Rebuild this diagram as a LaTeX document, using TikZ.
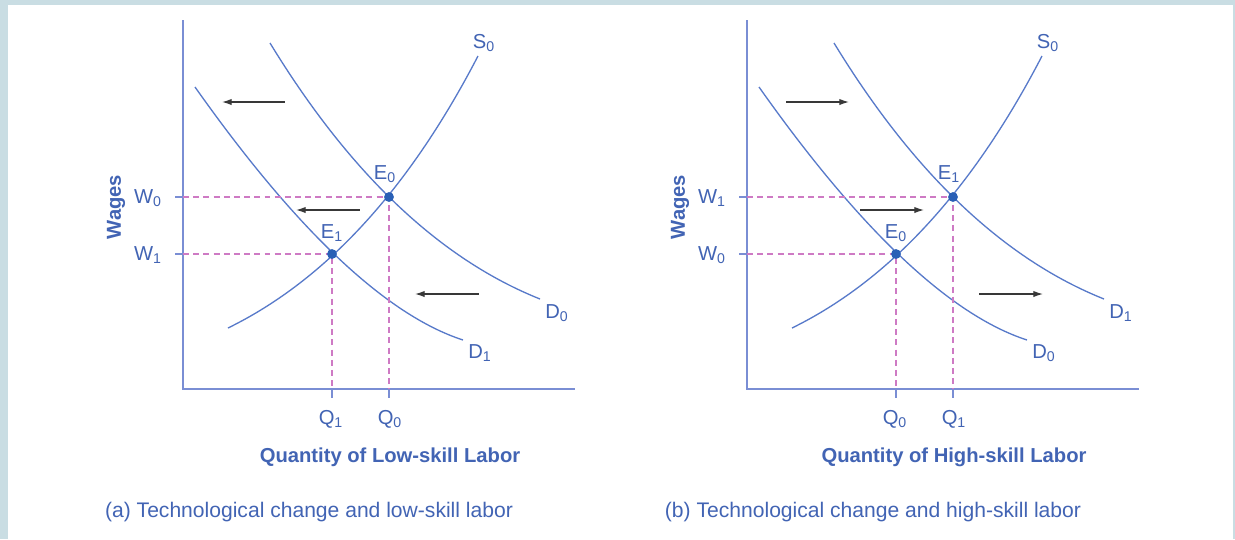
\documentclass[tikz,border=0pt]{standalone}
\usepackage{fontspec}
\setmainfont{Liberation Sans}
\usetikzlibrary{arrows.meta}

\definecolor{framecol}{RGB}{201,221,227}
\definecolor{axisblue}{RGB}{122,142,212}
\definecolor{curveblue}{RGB}{88,122,202}
\definecolor{txtblue}{RGB}{66,100,180}
\definecolor{dotblue}{RGB}{42,96,182}
\definecolor{guidepink}{RGB}{206,122,196}

\begin{document}
\begin{tikzpicture}[x=0.02cm, y=-0.02cm, font=\fontsize{11.5}{13}\selectfont, text=txtblue,
  >={Latex[length=5.5pt,width=3.6pt]},
  axis/.style={draw=axisblue, line width=0.85pt},
  curve/.style={draw=curveblue, line width=0.75pt},
  guide/.style={draw=guidepink, line width=0.6pt, dash pattern=on 3.4pt off 2.4pt},
  eqdot/.style={circle, fill=dotblue, inner sep=0pt, minimum size=5.6pt},
  shiftarr/.style={draw=black!78, line width=0.7pt}]
  % frame of the figure
  \fill[framecol] (0,0) rectangle (1235,539);
  \fill[white] (8,5) rectangle (1233,539);
  \useasboundingbox (0,0) rectangle (1235,539);
  \foreach \p/\off/\hi/\lo/\dir/\skill/\cap in {%
    a/0/0/1/<-/Low/{(a) Technological change and low-skill labor},
    b/564/1/0/->/High/{(b) Technological change and high-skill labor}}{
  \begin{scope}[shift={(\off,0)}]
    \coordinate (o\p) at (183,389);
    \draw[axis] (183,20) -- (o\p) -- (575,389);
    % demand curves and supply curve
    \draw[curve] (270,43) .. controls (350,174) and (440,259) .. (540,299);
    \draw[curve] (195,87) .. controls (296,230) and (386,315) .. (463,340);
    \draw[curve] (228,328) .. controls (326,280) and (409,189) .. (478,56);
    \coordinate (e\p hi) at (389,197);
    \coordinate (e\p lo) at (332,254);
    \coordinate (w\p hi) at (183,197);
    \coordinate (w\p lo) at (183,254);
    \draw[guide] (w\p hi) -- (e\p hi) -- (e\p hi |- o\p);
    \draw[guide] (w\p lo) -- (e\p lo) -- (e\p lo |- o\p);
    \draw[axis] (w\p hi) -- ++(-8,0);
    \draw[axis] (w\p lo) -- ++(-8,0);
    \draw[axis] (e\p hi |- o\p) -- ++(0,9);
    \draw[axis] (e\p lo |- o\p) -- ++(0,9);
    \node[eqdot] (dot\p hi) at (e\p hi) {};
    \node[eqdot] (dot\p lo) at (e\p lo) {};
    % shift arrows
    \draw[shiftarr,\dir] (222,102) -- (285,102);
    \draw[shiftarr,\dir] (296,210) -- (360,210);
    \draw[shiftarr,\dir] (415,294) -- (479,294);
    % labels
    \node (lw\p hi) at (148,198) {W\textsubscript{\hi}};
    \node (lw\p lo) at (148,255) {W\textsubscript{\lo}};
    \node (le\p hi) at (385,174) {E\textsubscript{\hi}};
    \node (le\p lo) at (332,233) {E\textsubscript{\lo}};
    \node (lq\p lo) at (331,419) {Q\textsubscript{\lo}};
    \node (lq\p hi) at (390,419) {Q\textsubscript{\hi}};
    \node (ls\p) at (484,43) {S\textsubscript{0}};
    \node (ld\p hi) at (557,313) {D\textsubscript{\hi}};
    \node (ld\p lo) at (480,353) {D\textsubscript{\lo}};
    \node[rotate=90, font=\fontsize{11.5}{13}\selectfont\bfseries] (wages\p) at (116,207) {Wages};
    \node[font=\fontsize{11.5}{13}\selectfont\bfseries] (qty\p) at (390,457) {Quantity of \skill-skill Labor};
    \node[font=\fontsize{12}{14}\selectfont] (cap\p) at (309,512) {\cap};
  \end{scope}
  }
\end{tikzpicture}
\end{document}
